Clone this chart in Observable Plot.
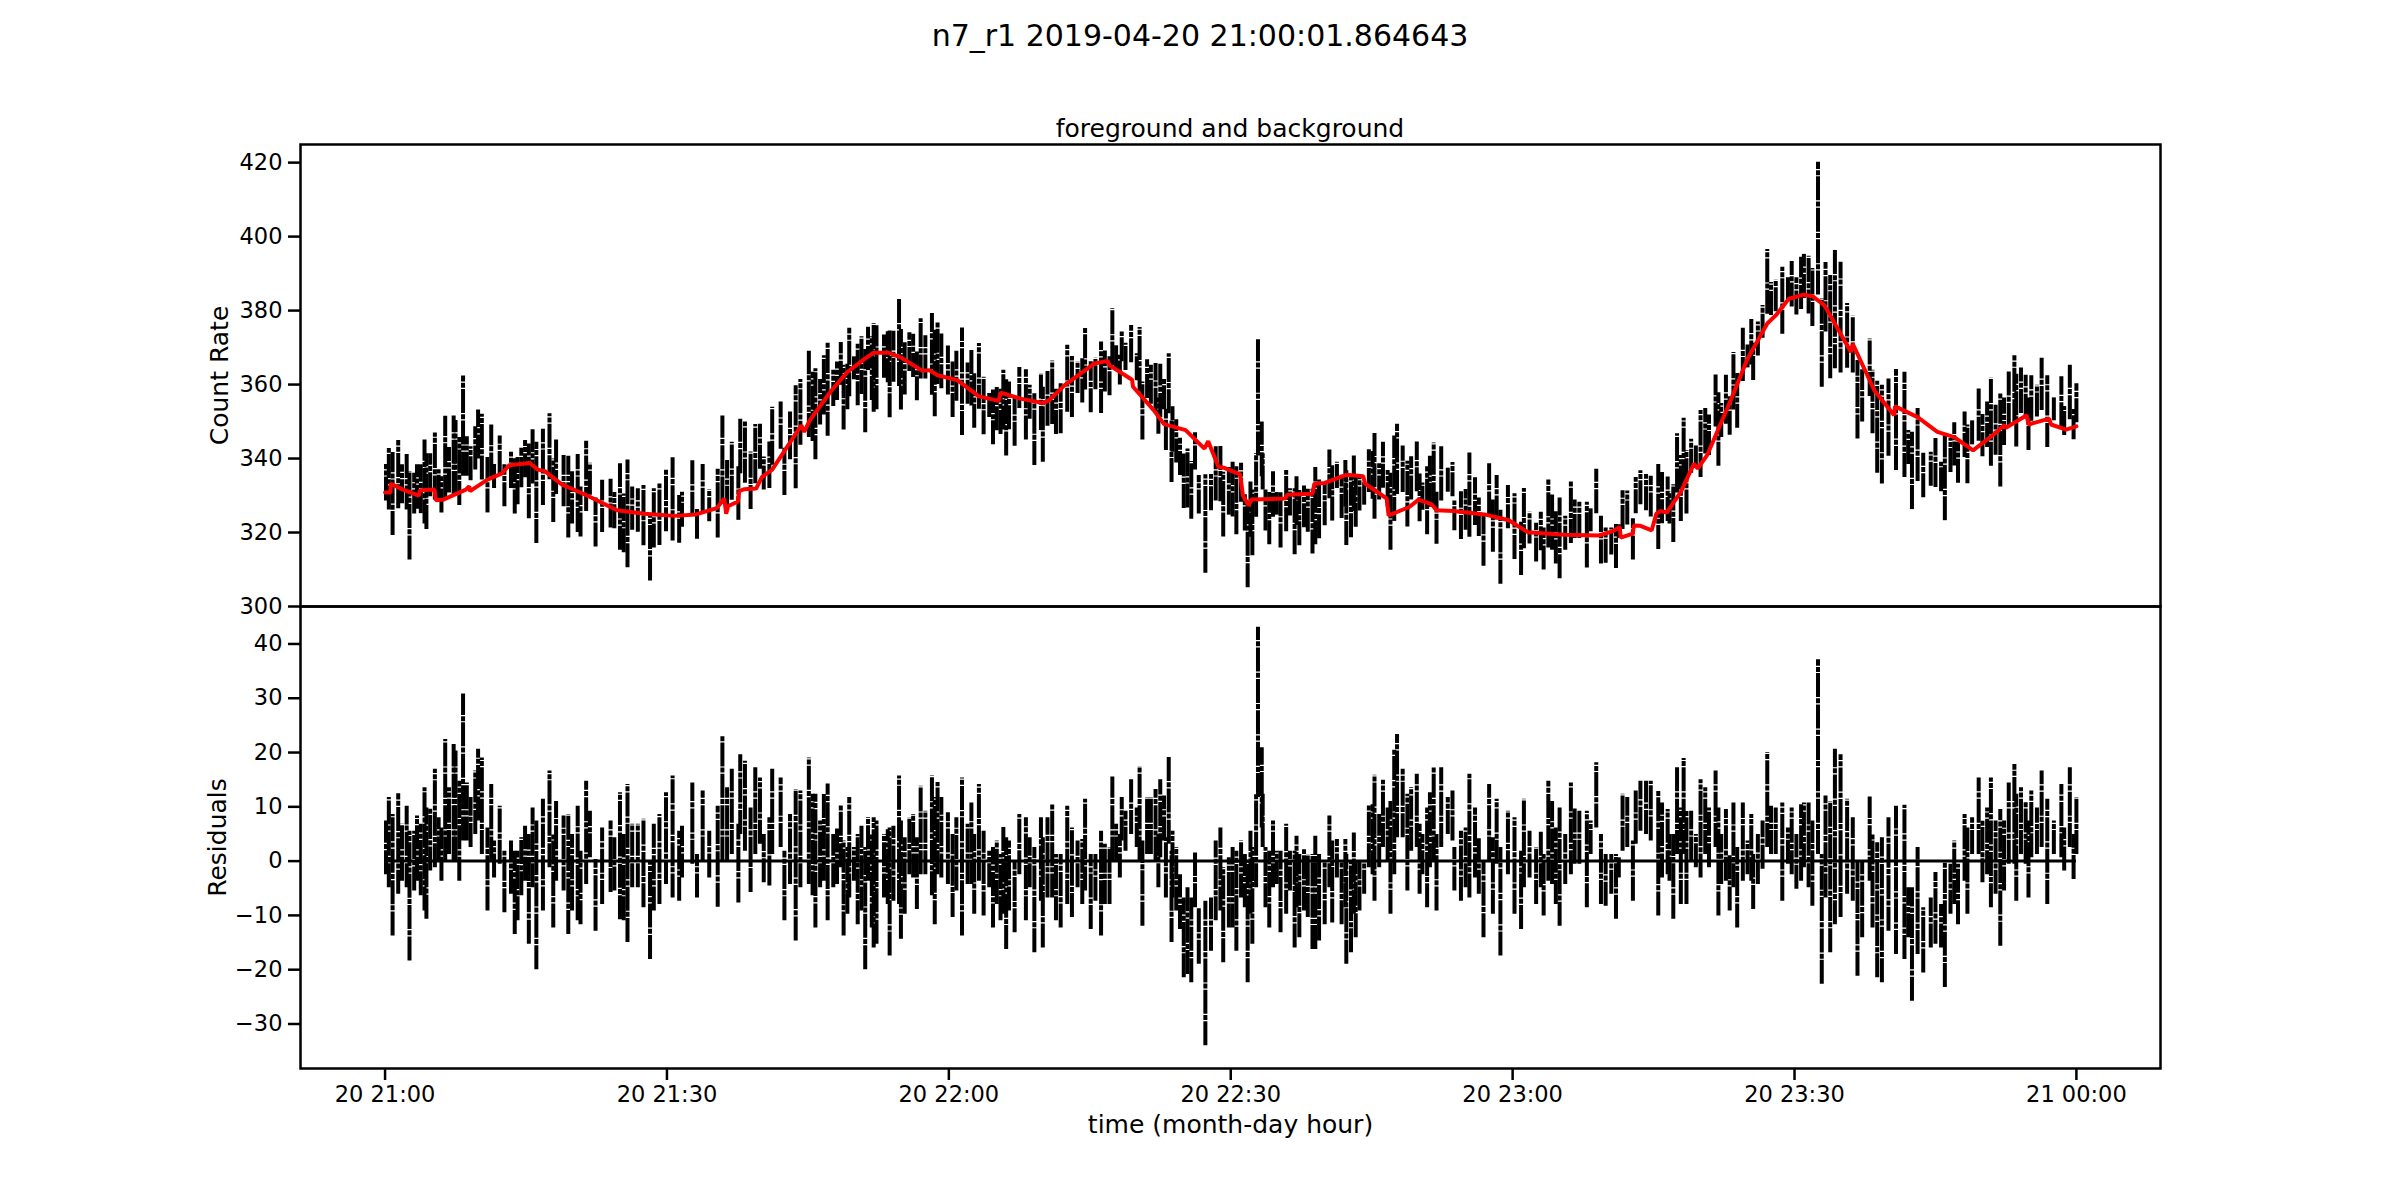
<!DOCTYPE html>
<html>
<head>
<meta charset="utf-8">
<script src="https://cdn.jsdelivr.net/npm/d3@7"></script>
<script src="https://cdn.jsdelivr.net/npm/@observablehq/plot@0.6"></script>
<style>
  body { margin: 0; background: white; font-family: "DejaVu Sans", sans-serif; color: black; }
  #fig { position: relative; width: 2400px; height: 1200px; overflow: hidden; }
  #fig svg { position: absolute; left: 0; }
  .title { position: absolute; left: 0; text-align: center; white-space: nowrap; }
</style>
</head>
<body>
<div id="fig">
  <div class="title" style="top:18px;width:2400px;font-size:30px">n7_r1 2019-04-20 21:00:01.864643</div>
  <div class="title" style="top:114px;left:300px;width:1860px;font-size:25px">foreground and background</div>
</div>
<script>
// minutes after 21:00 of each error bar column
const minutes = [
  0.1,0.4,0.8,1.4,1.8,2.3,2.6,3.1,3.4,3.8,
  4.2,4.4,4.8,5.3,5.7,6,6.4,6.8,7.3,7.5,
  7.9,8.3,8.7,9.1,9.6,9.9,10.3,10.9,11.3,11.6,
  12.2,12.7,13.4,13.8,14.1,14.5,14.9,15.3,15.7,16.1,
  16.8,17.5,17.9,18.2,19,19.5,19.9,20.5,20.8,21.4,
  21.8,22.4,23.1,24,24.4,25,25.4,25.8,26.3,26.9,
  27.5,28.2,28.6,29.2,29.9,30.6,31.3,31.6,32.7,33.2,
  33.8,34.5,35.4,35.9,36.4,36.9,37.6,37.8,38.3,38.9,
  39.4,39.9,40.3,40.9,41.2,42.1,42.5,43.1,43.7,44.2,45.1,
  45.5,45.8,46.3,46.7,47.1,47.7,48.1,48.5,48.8,49.2,
  49.4,49.9,50.3,50.7,51.1,51.4,51.8,52,52.3,53.1,
  53.5,53.7,54.1,54.7,54.9,55.3,55.8,56.2,56.6,57,
  57.5,58.2,58.5,58.8,59.2,59.9,60.4,60.8,61.4,62,
  62.4,62.7,63.2,63.7,64.3,64.7,65.1,65.5,65.8,66.1,
  66.4,67,67.5,68.2,68.6,69.1,69.8,70,70.5,71,
  71.4,71.9,72.6,73.1,73.7,74.2,74.5,75.1,75.6,76.2,
  76.6,77.1,77.4,77.8,78.2,78.4,78.8,79.4,80,80.3,
  80.6,81.1,81.5,82,82.3,82.5,82.9,83.1,83.4,83.7,
  83.8,84.2,84.6,85,85.4,85.8,86.2,86.6,87.3,87.9,
  88.4,88.9,89.2,89.8,
  90.2,90.6,91.1,91.5,91.8,92.1,92.3,92.7,92.9,93.3,
  93.4,93.7,94.1,94.5,94.9,95.3,95.9,96.3,96.8,97,
  97.3,97.8,98.2,98.7,99,99.4,100,100.5,100.8,101.3,
  101.8,102.2,102.3,102.8,103.1,103.3,103.7,104.2,104.7,105.1,
  105.3,105.8,106.2,106.7,107,107.4,107.7,108.3,108.8,109.2,
  109.8,110.1,110.4,110.9,111.2,111.6,111.9,112.4,113.1,113.6,
  113.8,114.5,115,115.4,116,116.4,116.9,117.5,117.9,118.3,
  118.7,119.5,120.2,120.9,121.2,121.8,122.5,123,123.3,123.8,
  124.2,124.6,125,125.6,126.2,126.6,127.1,127.9,128.3,128.9,
  129.4,129.9,130.5,131,131.3,131.7,132.2,132.8,133.1,133.6,
  134.2,134.7,135.5,
  135.9,136.5,136.7,137.1,137.5,137.9,138.2,138.5,139,139.5,
  140,140.5,140.9,141.6,141.9,142.2,142.7,143.1,143.5,143.9,
  144.5,145,145.4,145.6,146.1,146.6,147.1,147.5,148,148.7,
  149.3,149.7,150.2,150.7,151,151.5,151.9,152.5,152.9,153.3,
  153.8,154.3,154.9,155.6,156.2,156.7,157.2,158,158.3,158.8,
  159.3,160,160.8,161.7,162.1,162.5,163.1,163.7,164.5,165,
  165.6,166,166.6,167,167.4,168.1,168.4,168.9,169.6,170,
  170.5,170.9,171.4,171.9,172.3,172.8,173.4,173.6,174.1,174.6,
  174.9,175.2,175.8,176.3,176.9,177.6,178.4,178.7,179.3,179.7,180
]

// top of the residual bars
const residHi = [
  7.4,11.7,8.6,12.4,6.8,10.1,5.5,5.5,8.3,6.8,
  13.5,9.8,9.8,16.9,8,6.1,22.4,13.5,21.5,20.3,
  14.7,30.8,14.4,11.7,16.6,20.6,19,6.1,14.1,3.7,
  10.1,1.8,3.7,1.8,1.8,4.3,6.4,4.9,9.8,7.4,
  11.4,16.6,4.9,11,8.3,8.6,4.9,10.1,1.8,14.7,
  9.2,0.3,6.1,7.4,4.3,12.6,4.9,14.1,6.8,6.8,
  7.7,0,6.8,8.6,12.6,15.7,5.5,6.4,14.4,1.2,
  12.9,5.5,10.1,23,13.5,16.9,6.8,19.6,18.4,9.8,
  17.2,15.3,4.9,8,16.9,15.3,1.8,8.6,13.2,12.9,19,
  12.3,12.3,7.4,12.3,14.2,4.9,6.1,10.4,3.7,2.5,
  11.7,2.5,4.9,6.4,2.5,8,4.9,8,7.4,4.9,
  5.8,6.1,6.4,15.7,7.4,4.3,8,8.6,4.3,13.8,
  9.2,15.7,11.7,14.5,11.7,8.9,4.9,8,15.3,6.8,
  10.7,4.9,14.1,5.5,1.8,2.5,3.7,1.2,6.4,4.3,
  3.7,0,8.6,8,4.3,2.5,8,4.3,8,10.4,
  1.2,1.2,10.1,6.1,3.7,4,11.4,1.2,1.2,5.5,
  3.1,2.5,15.5,6.8,4.9,11.7,9.2,15,9.8,17.4,
  3.7,11.7,11.7,13.2,4.9,15,12,4.3,19.3,1.8,
  5.5,2.5,-2.5,-6.8,-4.9,-6.8,1.5,-8.6,-7.4,-6.8,
  3.7,6.1,-1.2,0.6,
  2.5,1.8,3.7,1.2,0,5.5,2.5,12.3,43.1,20.9,
  12.3,2.5,1.8,7.4,1.8,1.8,6.8,1.8,1.8,4.6,
  1.2,2.1,1.2,1.2,4.6,1.2,0,8.3,3.7,4,
  0,4,1.2,0,5.2,0,0,0,10.4,10.4,
  15.8,8.6,14.9,9.8,11,20.6,23.3,16.9,12.3,13.5,
  16,6.8,4.9,9.8,12.6,17.2,4.9,17.2,11.7,12.9,
  2.5,5.5,6.1,16,9.8,4.3,0,14.1,4.3,11.4,
  2.5,9.2,8,1.8,11.4,5.5,2.5,5.5,1.2,14.7,
  11,6.1,9.8,4.9,14.4,9.8,9.2,9.2,7.4,18.1,
  4.9,1.2,1.2,1.2,0.6,12.3,11.7,3.7,12.9,14.7,
  14.7,14.7,12.9,
  10.7,9.5,4.9,4.9,17.2,9.8,18.9,9.2,9.2,4.9,
  15,13.5,9.8,16.6,9.8,4.9,9.5,1.2,10.7,2.5,
  10.7,3.7,8.6,1.2,4.9,7.4,20,10.1,9.8,10.7,
  6.1,9.8,4.9,10.4,10.7,10.7,7.4,37.1,1.2,12,
  11,20.6,19.6,11.4,8,0,0,11.8,4.9,3.4,
  4.3,8,10.1,10.3,-4.9,-4.9,2.5,-8.6,-6.8,-2.1,
  -8,0,-0.6,3.7,-0.6,8.6,6.1,8,15.3,7.4,
  9.8,15.3,7.4,9.5,7.4,14.4,17.8,12.3,13.5,11,
  7.4,12.9,9.8,16.6,11.4,7.4,14.1,6.1,17.2,4.9,11.7
]

// bottom of the residual bars
const residLo = [
  -2.5,-4.9,-13.8,-6.1,-3.7,-4.9,-18.4,-5.5,-3.7,-6.4,
  -9.2,-10.7,-1.8,-1.2,0,-3.7,0,1.2,0,0,
  -3.7,3.7,3.7,2.5,4.9,7.4,1.2,-9.2,0,-3.1,
  -0.6,-9.5,-6.1,-13.5,-11,-6.4,-3.7,-15.3,-4.9,-20,
  -9.2,-1.2,-12.3,-3.7,-5.5,-13.5,-9.2,-11,-11.7,-4.3,
  0.6,-12.9,-8,-5.8,-5.5,-10.8,-11,-15,-4.9,-4.9,
  -8.6,-18.1,-9.2,-8,-4.3,-6.8,-7.4,-3.1,-0.6,-6.8,
  0,-3.1,-8.5,0,0,1.2,-7.7,4.9,1.8,-5.8,
  1.2,3.1,-4,-4.6,1.2,2.5,-11,-4.3,-14.7,-4.9,-4.3,
  -6.4,-12.3,-4.9,-3.7,-11,-4.9,-4.3,-1.2,-13.8,-9.8,
  -6.8,-3.7,-11.7,-9.2,-20,-3.7,-12.3,-16,-15.3,-6.8,
  -8,-17.5,-7.4,-8,-14.4,-9.8,-2.5,-3.1,-8.9,-2.5,
  -2.5,-6.4,-11.7,-2.5,-3.1,-4.3,-10.4,-5.5,-13.8,-4.3,
  -4.3,-9.8,-3.7,-10.1,-4.9,-12.3,-8,-11,-9.8,-16.3,
  -9.2,-13.2,-2.5,-11,-4.9,-16.9,-7.4,-16,-6.8,-6.8,
  -11,-12.3,-8,-10.4,-4.9,-8,-5.5,-12.6,-7.4,-13.8,
  -8,-8,0,0,-3.1,3.7,1.8,4.9,2.5,0,
  -12,1.2,1.2,0,-4.9,0.6,3.7,-6.8,3.1,-15,
  -6.8,-9.2,-12.6,-21.5,-20.9,-22.4,-8.6,-19,-34,-16.6,
  -11,-9.2,-18.7,-12.3,
  -12.3,-16.6,-6.8,-8.6,-22.4,-9.8,-15.3,-4.9,11.7,6.1,
  2.5,-8.6,-12.3,-4.9,-4.3,-13.2,-9.8,-5.5,-16,-8.6,
  -14.1,-9.2,-10.4,-16.3,-16.3,-14.7,-11.7,-4.9,-11.4,-3.1,
  -11.7,-8.6,-19,-16.9,-9.8,-14.1,-9.2,-6.1,-1.2,-2.5,
  -7.4,-1.2,2.5,0,-9.8,-2.5,4.3,4.3,-5.5,1.8,
  2.5,-6.1,-2.5,-8.6,-1.2,0,-9.2,2.5,4.9,3.7,
  -5.5,-7.4,-4.9,-6.8,-3.1,-6.1,-14.1,0,-9.8,-0.6,
  -17.5,-2.5,-9.8,-12.6,-4.9,-3.1,-8,-4.9,-10.1,-3.7,
  -4.3,-8,-12,-4.3,-2.5,-0.6,-0.6,-8.6,1.2,6.1,
  -8,-8.3,-6.1,-10.7,-3.1,1.8,2.5,-7.4,3.1,5.5,
  4.9,3.7,-10.1,
  -3.1,-2.5,-3.7,-10.7,1.2,-8,1.2,-8,0,-1.2,
  -3.1,1.2,-1.2,2.5,-10.1,-4.3,-3.7,-9.2,-4.9,-12.3,
  -3.7,-2.5,-3.7,-8.9,-4.3,-1.5,2.5,1.2,1.2,-7.4,
  -0.6,-2.5,-5.2,-3.7,-1.2,-4.9,-8.3,1.2,-22.7,-6.8,
  -16.9,-11.7,-10.4,-6.1,-7.4,-21.2,-14.1,-3.7,-12.3,-21.5,
  -22.4,-12.9,-17.2,-18.1,-14.1,-25.8,-17.2,-20.6,-16,-15.3,
  -16,-23.3,-9.8,-8,-11.7,-3.7,-9.8,1.2,1.2,-4,
  -2.5,-8.6,-6.1,-15.7,-5.5,-0.6,-0.6,-7.4,1.2,-0.6,
  -6.8,0.6,1.2,2.5,-8,1.2,0.6,-1.8,2.5,-3.4,1.2
]

// count rate level under each column
const countBase = [
  331,331,333,332.5,331.5,331,331,330.5,330,331.5,
  331.5,331.5,331.5,330,329,329,329,329.5,330,330,
  331,331.5,331.5,331.5,332,332.5,333,334.5,335,335,
  336,336.5,338,338.5,338.5,338.5,338.5,339,338,337,
  336.5,335.5,335,334,332.5,332,331.5,331,330.5,330,
  329.5,329,328,327,326.5,326,325.5,325.5,325.5,325,
  325,325,325,324.5,324.5,324.5,324.5,324.5,325,325,
  325.5,326,327,328.5,326,327.5,331,331,331.5,332,
  332,334,335.5,336.5,337,340,341,344,346.5,348.5,350,
  351,352,354,355.5,357,359,360,361,361.5,363,
  363.5,365,366,366.5,367,367.5,368,368.5,368.5,368.5,
  368.5,368.5,368,367.5,367.5,367,366,365,364.5,364,
  364,363.5,363,362.5,362,361.5,361.5,361,360,359,
  358.5,358,357,356.5,356,356,355.5,357.5,357.5,357,
  357,356.5,356,356,355.5,355,355,355,355.5,356,
  357.5,359,360.5,361.5,362.5,363,364,365,366,366,
  366,365,365,364,363,362.5,362,361,358.5,358,
  357,355,353.5,352.5,351.5,350.5,349.5,349,349,348.5,
  348.5,348,348,348,347.5,346,345.5,344,343,342.5,
  339.5,337.5,337.5,337,
  336.5,336,335,329,327.5,328.5,329,329,329,329,
  329,329,329,329,329,329,330,330,330,330.5,
  330.5,330.5,330.5,330.5,333,333,333.5,334,334.5,335,
  335.5,335.5,335.5,335.5,335.5,335.5,335,333.5,332,331.5,
  331,330,329.5,327,325,325.5,326,326.5,327,327,
  328.5,329,328.5,328,328,327,326,326,326,326,
  326,325.5,325.5,325.5,325,325,325,324.5,324.5,324,
  323.5,323.5,322.5,321,320.5,320,320,320,320,319.5,
  319.5,319.5,319.5,319.5,319.5,319,319,319,319,319,
  319.5,320,320,321,321.5,319,319.5,320,322,322,
  321,320.5,325.5,
  325.5,325.5,326,328,329.5,331,332,333,336,338.5,
  338,340,342,346,348,350,353,355.5,358,360.5,
  364.5,367,369,370,372,374,376.5,377.5,378.5,381,
  383,383.5,384,384,384.5,384,384,383,382,381,
  378.5,376,373.5,370.5,370.5,366.5,364,360.5,359,357.5,
  355.5,353.5,354,353,352.5,352,351,350,348.5,347.5,
  347,346.5,346,346,345,344,343,342.5,343.5,344.5,
  345.5,346.5,347,348,349,349,350,350.5,351,351.5,
  349,349.5,350,350.5,351,349,348,348,348,348.5,348.5
]

// red background line
const bgMinutes = [
  0,0.57,0.61,1.9,3.6,3.7,5.25,5.4,6.2,8.6,8.96,9.04,10.9,12.4,13.2,15.4,16.25,17,18.8,21.5,
  24.7,27.6,30.8,33.1,35.3,36.1,36.3,36.5,37.55,37.7,38.2,39.5,40.1,41.2,44.3,44.6,45.2,47.5,49.2,51,
  52,53.6,54.9,57.2,57.9,58.8,60.9,63.2,65.3,65.5,67.6,70,70.7,72.3,75.5,76.9,77.1,79.5,79.6,81.8,
  82.9,85.2,87.2,87.6,88.7,89.3,91,91.3,91.9,92.2,95.8,96,98.7,98.9,100,102.3,104.1,104.3,106.6,106.8,
  109,110,111.4,111.9,113.7,117,119.6,121.6,125.5,129.2,130.6,131.4,131.5,132.8,132.9,133.6,134.8,135.3,135.7,136.4,
  137.9,139.3,139.7,140.7,143.2,145,147.1,148,149.4,151,151.9,153.2,156,156.2,158.5,160.6,160.7,163.1,165.2,167,
  169,171.3,172.3,172.5,174.7,174.9,177.1,177.3,178.9,180
]
const bgValues = [
  330.8,330.8,333.2,331.6,330,331.4,331.6,328.7,328.9,331.6,332.5,331.2,334.3,335.9,338.2,338.8,337,336.6,333,330,
  326,325.1,324.5,324.9,326.6,329.2,325.1,327.1,328.4,331.2,331.7,331.9,335,337,349,347.2,350.3,358.4,363.4,366.9,
  368.6,368.6,367.3,363.7,363.9,362.5,361.2,356.8,355.6,357.8,356.2,355,355.8,359.8,365.7,366.4,365.2,361.3,359.4,353.1,
  349.3,347.7,342.7,344.7,337.7,337.5,335.7,330,327.3,328.9,329.2,330.2,330.5,333.2,333.4,335.6,335.2,333.2,329.2,324.6,
  326.9,328.9,327.6,326,325.8,324.9,323.3,320.1,319.4,319.2,320.3,321.5,318.6,319.7,321.9,321.8,320.6,325.1,325.8,325.4,
  331,338.6,337.3,340.9,355.7,367,376.5,378.7,383.2,384.3,383.9,381.4,368.8,371,358.4,351.7,354.1,351.2,347.2,345.8,
  342.2,346.7,349,348.3,351.7,349.2,350.8,349.2,347.8,348.7
]

const countTicks = [300, 320, 340, 360, 380, 400, 420]
const residTicks = [-30, -20, -10, 0, 10, 20, 30, 40]
const tickMinutes = [0, 30, 60, 90, 120, 150, 180]

const toTime = m => new Date(Date.UTC(2019, 3, 20, 21, 0) + m * 60000)

const bars = minutes.map((m, i) => ({
  t: toTime(m),
  resHi: residHi[i],
  resLo: residLo[i],
  countHi: countBase[i] + residHi[i],
  countLo: countBase[i] + residLo[i]
}))
const background = bgMinutes.map((m, i) => ({ t: toTime(m), v: bgValues[i] }))

const xDomain = [toTime(-9), toTime(188.95)]
const svgStyle = { background: "transparent", overflow: "visible", fontFamily: "DejaVu Sans", color: "black" }
const barStyle = { stroke: "black", strokeWidth: 4, strokeDasharray: "24,1.2,5,1.2" }
const tickStyle = { tickFormat: d3.format("d"), tickSize: 12, tickPadding: 6, strokeWidth: 2.5, fontSize: 22.5, label: null }
// axis titles are larger than the tick labels, so they get an axis of their own
const axisTitle = { ticks: [], tickSize: 0, fontSize: 25, labelAnchor: "center", labelArrow: "none" }

let top_panel = Plot.plot({
  width: 2400, height: 607,
  marginLeft: 300, marginRight: 240, marginTop: 144, marginBottom: 1,
  style: svgStyle,
  x: { type: "utc", domain: xDomain, axis: null },
  y: { domain: [300, 424.9] },
  marks: [
    Plot.axisY({ ticks: countTicks, ...tickStyle }),
    Plot.axisY({ ...axisTitle, label: "Count Rate", labelOffset: 90 }),
    Plot.ruleX(bars, { x: "t", y1: "countLo", y2: "countHi", ...barStyle }),
    Plot.line(background, { x: "t", y: "v", stroke: "red", strokeWidth: 4, strokeLinejoin: "miter" }),
    Plot.frame({ stroke: "black", strokeWidth: 2.5 })
  ]
})

let bottom_panel = Plot.plot({
  width: 2400, height: 594,
  marginLeft: 300, marginRight: 240, marginTop: 0, marginBottom: 132,
  style: svgStyle,
  x: { type: "utc", domain: xDomain },
  y: { domain: [-38.2, 46.9] },
  marks: [
    Plot.axisX({ ...tickStyle, ticks: tickMinutes.map(toTime), tickFormat: d3.utcFormat("%d %H:%M") }),
    Plot.axisX({ ...axisTitle, label: "time (month-day hour)", labelOffset: 64 }),
    Plot.axisY({ ticks: residTicks, ...tickStyle }),
    Plot.axisY({ ...axisTitle, label: "Residuals", labelOffset: 92 }),
    Plot.ruleX(bars, { x: "t", y1: "resLo", y2: "resHi", ...barStyle }),
    Plot.ruleY([0], { x1: toTime(0), x2: toTime(180), stroke: "black", strokeWidth: 3 }),
    Plot.frame({ stroke: "black", strokeWidth: 2.5 })
  ]
})

top_panel.style.top = "0px"
bottom_panel.style.top = "606px"
d3.select("#fig").append(() => top_panel)
d3.select("#fig").append(() => bottom_panel)
</script>
</body>
</html>
